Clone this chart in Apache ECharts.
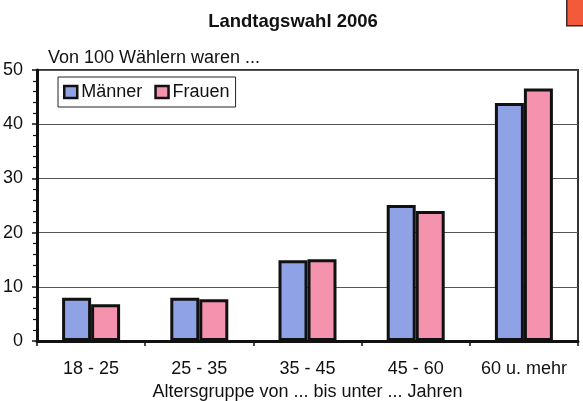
<!DOCTYPE html>
<html>
<head>
<meta charset="utf-8">
<script src="https://cdn.jsdelivr.net/npm/echarts@6/dist/echarts.min.js"></script>
<style>
  html, body { margin: 0; padding: 0; background: #fff; }
  #chart { width: 583px; height: 401px; }
</style>
</head>
<body>
<div id="chart"></div>
<script>
// Altersgruppen und Anteile (von 100 Wählern)
var categories = ["18 - 25", "25 - 35", "35 - 45", "45 - 60", "60 u. mehr"];
var maenner = [8, 8, 14.9, 25.1, 43.9];
var frauen = [6.8, 7.7, 15.1, 24, 46.6];
var seriesNames = ["Männer", "Frauen"];

var font = "Liberation Sans, Arial, sans-serif";
var chart = echarts.init(document.getElementById("chart"));

var option = {
  backgroundColor: "#fff",
  animation: false,
  textStyle: { fontFamily: font, color: "#111" },
  title: {
    text: "Landtagswahl 2006",
    left: 288,
    textAlign: "center",
    top: 7,
    textStyle: { fontFamily: font, fontSize: 18.5, fontWeight: "bold", color: "#111" },
  },
  // roter Fleck oben rechts im Original
  graphic: [
    {
      type: "rect",
      left: 566,
      top: -2,
      shape: { width: 20, height: 27 },
      style: { fill: "#f25a3a", stroke: "#3a2a2a", lineWidth: 1.5 },
    },
  ],
  legend: {
    left: 58,
    top: 77,
    padding: [6, 6, 6, 5],
    itemGap: 12,
    itemWidth: 13,
    itemHeight: 12,
    borderColor: "#222",
    borderWidth: 1,
    backgroundColor: "#fff",
    icon: "rect",
    itemStyle: { borderColor: "#111", borderWidth: 2.5 },
    textStyle: { fontFamily: font, fontSize: 18, color: "#111", padding: [0, 0, 0, -1] },
    data: seriesNames,
  },
  grid: {
    left: 37,
    right: 5,
    top: 70,
    bottom: 60,
    outerBoundsMode: "none",
    containLabel: false,
    show: true,
    borderColor: "#333",
    borderWidth: 2,
  },
  xAxis: {
    type: "category",
    data: categories,
    name: "Altersgruppe von ... bis unter ... Jahren",
    nameLocation: "middle",
    nameGap: 40,
    nameTextStyle: { fontFamily: font, fontSize: 18, color: "#111" },
    axisLine: { show: true, lineStyle: { color: "#111", width: 3 } },
    axisTick: { show: true, length: 5, lineStyle: { color: "#111", width: 1.5 } },
    axisLabel: { interval: 0, fontFamily: font, fontSize: 18, color: "#111", margin: 19 },
  },
  yAxis: {
    type: "value",
    min: 0,
    max: 50,
    interval: 10,
    name: "Von 100 Wählern waren ...",
    nameLocation: "end",
    nameGap: 12,
    nameTextStyle: {
      fontFamily: font,
      fontSize: 18,
      color: "#111",
      align: "left",
      verticalAlign: "middle",
      padding: [0, 0, 0, 11],
    },
    axisLine: { show: true, lineStyle: { color: "#111", width: 3 } },
    axisTick: { show: true, length: 5, lineStyle: { color: "#111", width: 1.5 } },
    minorTick: { show: true, splitNumber: 5, length: 4, lineStyle: { color: "#111", width: 1.2 } },
    axisLabel: { fontFamily: font, fontSize: 18, color: "#111", margin: 14 },
    splitLine: { show: true, lineStyle: { color: "#555", width: 1.2 } },
  },
  series: [
    {
      name: seriesNames[0],
      type: "bar",
      data: maenner,
      barWidth: 29,
      barGap: "0%",
      itemStyle: { color: "#8fa2e6", borderColor: "#111", borderWidth: 3 },
    },
    {
      name: seriesNames[1],
      type: "bar",
      data: frauen,
      barWidth: 29,
      barGap: "0%",
      itemStyle: { color: "#f592ad", borderColor: "#111", borderWidth: 3 },
    },
  ],
};

chart.setOption(option, true);
</script>
</body>
</html>
